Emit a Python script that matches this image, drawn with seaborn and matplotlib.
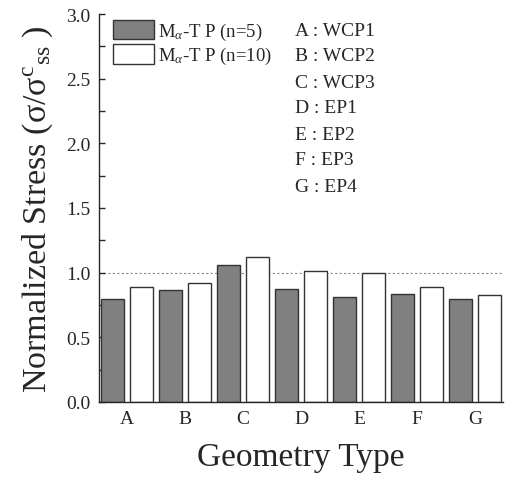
import numpy as np
import pandas as pd
import seaborn as sn
import matplotlib.pyplot as plt
from matplotlib.ticker import MultipleLocator, FixedLocator, FormatStrFormatter

# data
geometry = ["A", "B", "C", "D", "E", "F", "G"]
n5 = [0.80, 0.867, 1.056, 0.872, 0.813, 0.832, 0.793]
n10 = [0.893, 0.923, 1.122, 1.01, 0.995, 0.893, 0.826]
series = ["M$_{\\alpha}$-T P (n=5)", "M$_{\\alpha}$-T P (n=10)"]
key_lines = ["A : WCP1", "B : WCP2", "C : WCP3", "D : EP1", "E : EP2", "F : EP3", "G : EP4"]

df = pd.DataFrame({
    "geometry": geometry * 2,
    "series": [series[0]] * len(n5) + [series[1]] * len(n10),
    "value": n5 + n10,
})

sn.set_style("ticks")
plt.rcParams["font.family"] = ["Liberation Serif", "DejaVu Serif"]
plt.rcParams["mathtext.fontset"] = "custom"
plt.rcParams["mathtext.rm"] = "Liberation Serif"
plt.rcParams["mathtext.it"] = "Liberation Serif:italic"

fig = plt.figure(figsize=(5.05, 4.81), dpi=100)
ax = fig.add_axes([99 / 505, 1 - 403 / 481, 404 / 505, (403 - 15) / 481])

sn.barplot(data=df, x="geometry", y="value", hue="series",
           palette={series[0]: "#808080", series[1]: "white"},
           width=1.0, gap=0.2, edgecolor="#333333", linewidth=1.0, ax=ax)

ax.axhline(1.0, color="#888888", linestyle=(0, (2, 2)), linewidth=0.8, zorder=0)

ax.set_ylim(0, 3.0)
ax.set_xlim(-0.48, 6.48)
ax.yaxis.set_major_locator(MultipleLocator(0.5))
ax.yaxis.set_minor_locator(MultipleLocator(0.25))
ax.yaxis.set_major_formatter(FormatStrFormatter("%.1f"))
ax.xaxis.set_minor_locator(FixedLocator([i + d for i in range(7) for d in (-0.25, 0.25)]))
ax.tick_params(axis="y", which="both", direction="in", length=4, width=1, labelsize=14, pad=6)
ax.tick_params(axis="x", which="major", length=0, labelsize=14, pad=6)
ax.tick_params(axis="x", which="minor", direction="in", length=5, width=1)

for s in ["top", "right"]:
    ax.spines[s].set_visible(False)
for s in ["left", "bottom"]:
    ax.spines[s].set_linewidth(1.0)

ax.set_xlabel("Geometry Type", fontsize=24, labelpad=10)
ax.set_ylabel("Normalized Stress (σ/σ$^{\\mathrm{c}}$$_{\\mathrm{ss}}$ )", fontsize=24.5, labelpad=8)

ax.legend(loc="upper left", bbox_to_anchor=(0.015, 1.005), frameon=False, fontsize=13.5,
          handlelength=2.2, handleheight=1.25, handletextpad=0.25, labelspacing=0.1,
          borderaxespad=0.0)

for i, t in enumerate(key_lines):
    fig.text(295 / 505, 1 - (31 + i * 26) / 481, t, fontsize=14, va="center", ha="left")

fig.savefig("out.png", dpi=100)
